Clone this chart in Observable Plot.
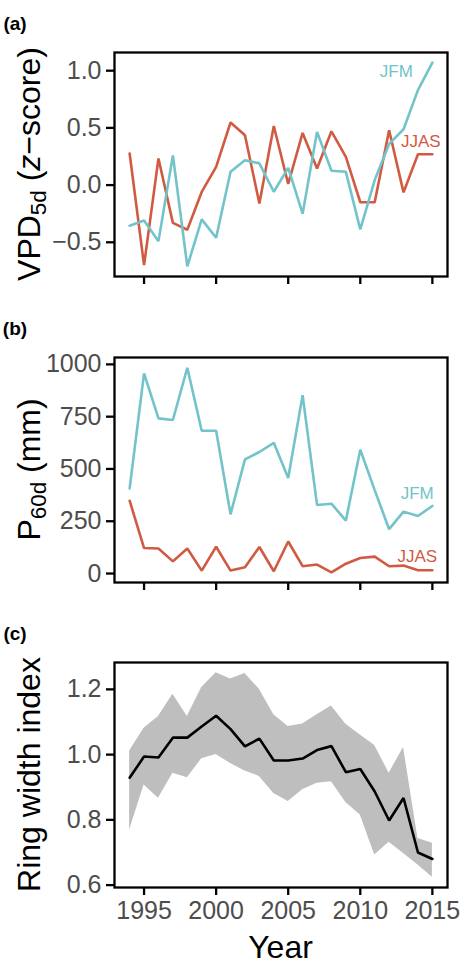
<!DOCTYPE html>
<html>
<head>
<meta charset="utf-8">
<script src="https://cdn.jsdelivr.net/npm/d3@7"></script>
<script src="https://cdn.jsdelivr.net/npm/@observablehq/plot@0.6"></script>
<style>
  body { margin: 0; background: #fff; }
  #chart { width: 461px; }
  #chart svg { display: block; }
</style>
</head>
<body>
<div id="chart"></div>
<script>
// ---------- data ----------
const years = [1994, 1995, 1996, 1997, 1998, 1999, 2000, 2001, 2002, 2003, 2004,
               2005, 2006, 2007, 2008, 2009, 2010, 2011, 2012, 2013, 2014, 2015];

// (a) VPD 5d z-scores
const vpdJFM  = [-0.355, -0.31, -0.49, 0.26, -0.71, -0.30, -0.46, 0.116, 0.218, 0.19, -0.058,
                 0.15, -0.25, 0.465, 0.125, 0.116, -0.387, 0.044, 0.36, 0.488, 0.83, 1.07];
const vpdJJAS = [0.276, -0.70, 0.233, -0.33, -0.39, -0.06, 0.16, 0.547, 0.436, -0.16, 0.517,
                 0.01, 0.456, 0.145, 0.47, 0.247, -0.15, -0.15, 0.48, -0.064, 0.27, 0.27];

// (b) P 60d (mm)
const precipJFM  = [407, 957, 742, 734, 984, 683, 683, 283, 546, 581, 625,
                    457, 853, 328, 334, 253, 592, 399, 212, 296, 275, 323];
const precipJJAS = [348, 122, 120, 58, 120, 14, 128, 14, 30, 127, 11,
                    153, 35, 43, 6, 47, 74, 81, 35, 38, 16, 16];

// (c) Ring width index: mean and band
const ringMean  = [0.929, 0.994, 0.991, 1.052, 1.052, 1.086, 1.119, 1.078, 1.025, 1.049, 0.982,
                   0.982, 0.988, 1.014, 1.026, 0.946, 0.956, 0.887, 0.798, 0.867, 0.700, 0.680];
const ringUpper = [1.011, 1.081, 1.117, 1.185, 1.117, 1.206, 1.251, 1.232, 1.249, 1.200, 1.122,
                   1.086, 1.094, 1.122, 1.149, 1.093, 1.060, 1.028, 0.943, 1.022, 0.743, 0.728];
const ringLower = [0.769, 0.907, 0.866, 0.943, 0.929, 0.987, 1.000, 0.973, 0.950, 0.933, 0.881,
                   0.856, 0.892, 0.912, 0.917, 0.853, 0.815, 0.692, 0.731, 0.697, 0.662, 0.624];

// tick values
const xTicks      = [1995, 2000, 2005, 2010, 2015];
const vpdTicks    = [-0.5, 0.0, 0.5, 1.0];
const precipTicks = [0, 250, 500, 750, 1000];
const ringTicks   = [0.6, 0.8, 1.0, 1.2];

// series labels (annotation positions in data units)
const seasonNames   = ["JFM", "JJAS"];
const vpdLabelYear  = [2012.5, 2014.2];
const vpdLabelValue = [0.99, 0.38];
const pLabelYear    = [2013.95, 2013.95];
const pLabelValue   = [384, 82];

const panelLetters = ["(a)", "(b)", "(c)"];

// ---------- styling ----------
const colJFM = "#72C3CA";
const colJJAS = "#D05A42";
const seasonColors = [colJFM, colJJAS];
const FONT = "'Liberation Sans', Arial, Helvetica, sans-serif";
const W = 461, ML = 114, MR = 14, MT = 52;
const tickFont = 25, titleFont = 32;

// ggplot-style 5% expansion
function expand(min, max, m = 0.05) { const r = max - min; return [min - r * m, max + r * m]; }
const xDomain = expand(d3.min(years), d3.max(years));

const rows = (vals, season) => years.map((y, i) => ({year: y, value: vals[i], season}));

function baseMarks(yTicks, yFmt, showXLabels) {
  return [
    Plot.axisY({ticks: yTicks, tickFormat: yFmt, tickSize: 8, tickPadding: 5,
                stroke: "black", strokeWidth: 2.3, fill: "#4D4D4D", fontSize: tickFont, label: null}),
    Plot.axisX({ticks: xTicks, tickFormat: showXLabels ? (d => String(d)) : (() => ""),
                tickSize: 8, tickPadding: 6, stroke: "black", strokeWidth: 2.3,
                fill: "#4D4D4D", fontSize: tickFont, label: null}),
  ];
}

function addTitle(svg, cx, cy, parts, rotate) {
  const t = d3.select(svg).append("text")
    .attr("transform", rotate ? `translate(${cx},${cy}) rotate(-90)` : `translate(${cx},${cy})`)
    .attr("text-anchor", "middle")
    .attr("font-family", FONT)
    .attr("font-size", titleFont)
    .attr("fill", "black");
  parts.forEach(p => {
    const s = t.append("tspan").text(p.t);
    if (p.sub) s.attr("font-size", titleFont * 0.7).attr("dy", 6);
    if (p.unsub) s.attr("dy", -6);
    if (p.it) s.attr("font-style", "italic");
  });
}

function addLetter(svg, letter) {
  d3.select(svg).append("text")
    .attr("x", 15).attr("y", 30)
    .attr("font-family", FONT).attr("font-size", 19).attr("font-weight", "bold")
    .attr("fill", "black").text(letter);
}

const chart = document.getElementById("chart");

// ---------- panel (a) ----------
{
  const H = 305, MB = 29;
  const all = vpdJFM.concat(vpdJJAS);
  const svg = Plot.plot({
    width: W, height: H, marginLeft: ML, marginRight: MR, marginTop: MT, marginBottom: MB,
    style: {fontFamily: FONT, background: "white"},
    x: {domain: xDomain},
    y: {domain: expand(d3.min(all), d3.max(all))},
    marks: [
      ...baseMarks(vpdTicks, d3.format(".1f"), false),
      Plot.lineY(rows(vpdJJAS, "JJAS"), {x: "year", y: "value", stroke: colJJAS, strokeWidth: 2.6, strokeLinejoin: "miter"}),
      Plot.lineY(rows(vpdJFM, "JFM"), {x: "year", y: "value", stroke: colJFM, strokeWidth: 2.6, strokeLinejoin: "miter"}),
      Plot.text(seasonNames.map((n, i) => ({n, x: vpdLabelYear[i], y: vpdLabelValue[i], c: seasonColors[i]})),
        {x: "x", y: "y", text: "n", fill: d => d.c, fontSize: 17}),
      Plot.frame({stroke: "black", strokeWidth: 2.3})
    ]
  });
  addTitle(svg, 40, MT + (H - MT - MB) / 2,
    [{t: "VPD"}, {t: "5d", sub: true}, {t: " (", unsub: true}, {t: "z", it: true}, {t: "\u2212score)"}], true);
  addLetter(svg, panelLetters[0]);
  chart.appendChild(svg);
}

// ---------- panel (b) ----------
{
  const H = 305, MB = 28;
  const all = precipJFM.concat(precipJJAS);
  const svg = Plot.plot({
    width: W, height: H, marginLeft: ML, marginRight: MR, marginTop: MT, marginBottom: MB,
    style: {fontFamily: FONT, background: "white"},
    x: {domain: xDomain},
    y: {domain: expand(d3.min(all), d3.max(all))},
    marks: [
      ...baseMarks(precipTicks, d => String(d), false),
      Plot.lineY(rows(precipJJAS, "JJAS"), {x: "year", y: "value", stroke: colJJAS, strokeWidth: 2.6, strokeLinejoin: "miter"}),
      Plot.lineY(rows(precipJFM, "JFM"), {x: "year", y: "value", stroke: colJFM, strokeWidth: 2.6, strokeLinejoin: "miter"}),
      Plot.text(seasonNames.map((n, i) => ({n, x: pLabelYear[i], y: pLabelValue[i], c: seasonColors[i]})),
        {x: "x", y: "y", text: "n", fill: d => d.c, fontSize: 17}),
      Plot.frame({stroke: "black", strokeWidth: 2.3})
    ]
  });
  addTitle(svg, 40, MT + (H - MT - MB) / 2,
    [{t: "P"}, {t: "60d", sub: true}, {t: " (mm)", unsub: true}], true);
  addLetter(svg, panelLetters[1]);
  chart.appendChild(svg);
}

// ---------- panel (c) ----------
{
  const H = 354, MB = 77;
  const ring = years.map((y, i) => ({year: y, mean: ringMean[i], lo: ringLower[i], hi: ringUpper[i]}));
  const svg = Plot.plot({
    width: W, height: H, marginLeft: ML, marginRight: MR, marginTop: MT, marginBottom: MB,
    style: {fontFamily: FONT, background: "white"},
    x: {domain: xDomain},
    y: {domain: expand(d3.min(ringLower), d3.max(ringUpper))},
    marks: [
      Plot.areaY(ring, {x: "year", y1: "lo", y2: "hi", fill: "#BEBEBE"}),
      ...baseMarks(ringTicks, d3.format(".1f"), true),
      Plot.lineY(ring, {x: "year", y: "mean", stroke: "black", strokeWidth: 2.6, strokeLinejoin: "miter"}),
      Plot.frame({stroke: "black", strokeWidth: 2.3})
    ]
  });
  addTitle(svg, 40, MT + (H - MT - MB) / 2, [{t: "Ring width index"}], true);
  addTitle(svg, ML + (W - ML - MR) / 2, 348, [{t: "Year"}], false);
  addLetter(svg, panelLetters[2]);
  chart.appendChild(svg);
}
</script>
</body>
</html>
